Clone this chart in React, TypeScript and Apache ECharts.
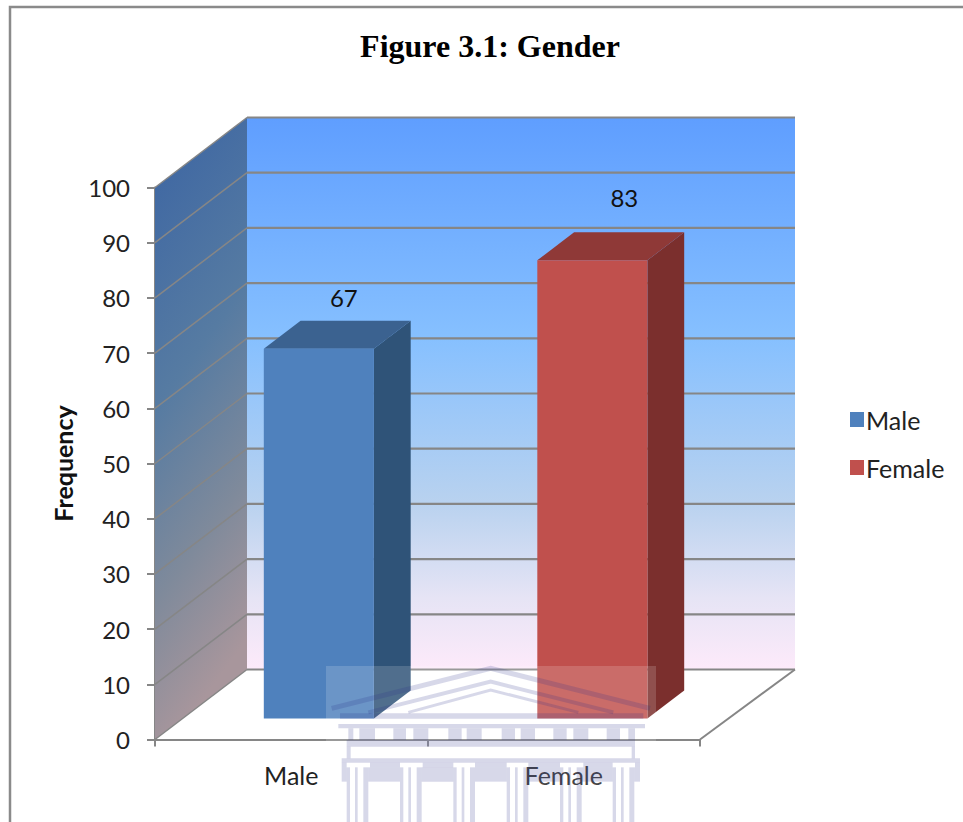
import React, { useEffect, useRef } from "react";
import * as echarts from "echarts";

const CATEGORIES = ["Male", "Female"];
const MALE_VALUES = [["Male", 67]];
const FEMALE_VALUES = [["Female", 83]];
const Y_TICKS = [0, 10, 20, 30, 40, 50, 60, 70, 80, 90, 100];
const TITLE = "Figure 3.1: Gender";
const Y_NAME = "Frequency";

const FONT = "Lato, 'Noto Sans', sans-serif";
const GRID_COLOR = "#868686";
const TEXT_COLOR = "#222222";
const DEPTH_X = 92;
const DEPTH_X_RIGHT = 95;
const DEPTH_Y = 70;
const BAR_FRONT = 0.3;
const BAR_DEPTH = 0.4;
const BAR_RATIO = 0.404;

function renderWalls(params: any, api: any) {
  const cs = params.coordSys;
  const left = cs.x;
  const right = cs.x + cs.width;
  const top = cs.y;
  const bottom = cs.y + cs.height;
  const children: any[] = [];
  children.push({
    type: "polygon",
    shape: { points: [[left + DEPTH_X, top - DEPTH_Y], [right + DEPTH_X_RIGHT, top - DEPTH_Y], [right + DEPTH_X_RIGHT, bottom - DEPTH_Y], [left + DEPTH_X, bottom - DEPTH_Y]] },
    style: {
      fill: new echarts.graphic.LinearGradient(0, 0, 0, 1, [
        { offset: 0, color: "#5f9eff" },
        { offset: 0.4, color: "#86c0ff" },
        { offset: 0.7, color: "#b9d2ef" },
        { offset: 0.87, color: "#e6e4f5" },
        { offset: 1, color: "#fdeafa" },
      ]),
    },
  });
  children.push({
    type: "polygon",
    shape: { points: [[left, top], [left + DEPTH_X, top - DEPTH_Y], [left + DEPTH_X, bottom - DEPTH_Y], [left, bottom]] },
    style: {
      fill: new echarts.graphic.LinearGradient(0, 0, 0.2, 1, [
        { offset: 0, color: "#3b64a3" },
        { offset: 0.45, color: "#567ba2" },
        { offset: 0.75, color: "#7f8a9b" },
        { offset: 1, color: "#a8969c" },
      ]),
    },
  });
  Y_TICKS.forEach((t) => {
    const y = api.coord([0, t])[1];
    children.push({
      type: "line",
      shape: { x1: left, y1: y, x2: left + DEPTH_X, y2: y - DEPTH_Y },
      style: { stroke: GRID_COLOR, lineWidth: 1.5 },
    });
    children.push({
      type: "line",
      shape: { x1: left + DEPTH_X, y1: y - DEPTH_Y, x2: right + DEPTH_X_RIGHT, y2: y - DEPTH_Y },
      style: { stroke: GRID_COLOR, lineWidth: 2.2 },
    });
  });
  children.push({
    type: "line",
    shape: { x1: right, y1: bottom, x2: right + DEPTH_X_RIGHT, y2: bottom - DEPTH_Y },
    style: { stroke: GRID_COLOR, lineWidth: 2 },
  });
  return { type: "group", children };
}

function makeBarRenderer(front: string, side: string, topFace: string, shiftX: number, labelDx: number, labelDy: number) {
  return (_params: any, api: any) => {
    const value = api.value(1);
    const base = api.coord([api.value(0), 0]);
    const head = api.coord([api.value(0), value]);
    const width = api.size([1, 0])[0] * BAR_RATIO;
    const fx = DEPTH_X * BAR_FRONT + shiftX;
    const fy = DEPTH_Y * BAR_FRONT;
    const dx = DEPTH_X * BAR_DEPTH;
    const dy = DEPTH_Y * BAR_DEPTH;
    const x0 = base[0] + fx - width / 2;
    const x1 = x0 + width;
    const yb = base[1] - fy;
    const yt = head[1] - fy;
    return {
      type: "group",
      children: [
        { type: "polygon", shape: { points: [[x1, yt], [x1 + dx, yt - dy], [x1 + dx, yb - dy], [x1, yb]] }, style: { fill: side } },
        { type: "polygon", shape: { points: [[x0, yt], [x0 + dx, yt - dy], [x1 + dx, yt - dy], [x1, yt]] }, style: { fill: topFace } },
        { type: "polygon", shape: { points: [[x0, yt], [x1, yt], [x1, yb], [x0, yb]] }, style: { fill: front } },
        {
          type: "text",
          style: {
            text: String(value),
            x: base[0] + fx + labelDx,
            y: yt + labelDy,
            align: "center",
            verticalAlign: "middle",
            fontFamily: FONT,
            fontSize: 24,
            fill: "#111111",
          },
        },
      ],
    };
  };
}

// The faded building printed across the lower part of the page.
function watermark() {
  const ink = "rgba(40,50,140,0.19)";
  const z = 100;
  const out: any[] = [];
  const X = (v: number) => 320 + v / 3;
  const Y = (v: number) => 660 + v / 3;
  // rectangles are given in the 3x coordinates of the measured crop
  const rect = (x0: number, x1: number, y0: number, y1: number, fill = ink) =>
    out.push({ type: "rect", z, silent: true, shape: { x: X(x0), y: Y(y0), width: (x1 - x0) / 3, height: (y1 - y0) / 3 }, style: { fill } });
  const roof = (pts: number[][], lineWidth: number) =>
    out.push({ type: "polyline", z, silent: true, shape: { points: pts.map(([a, b]) => [X(a), Y(b)]) }, style: { stroke: ink, fill: "none", lineWidth } });

  rect(18, 1008, 18, 486, "rgba(255,255,255,0.16)");
  roof([[35, 145], [512, 25], [990, 145]], 5);
  roof([[145, 157], [512, 65], [880, 157]], 4);
  roof([[265, 157], [512, 90], [775, 157]], 3);
  rect(60, 970, 160, 176);
  rect(55, 975, 192, 205);
  [[85, 100], [118, 165], [220, 258], [280, 325], [385, 425], [440, 485], [545, 585], [602, 645], [700, 740], [760, 805], [860, 900], [925, 945]].forEach(([a, b]) =>
    rect(a, b, 205, 240)
  );
  rect(80, 945, 240, 260);
  rect(80, 92, 260, 295);
  rect(935, 945, 260, 295);
  rect(65, 960, 295, 308);
  [[65, 80], [150, 240], [308, 400], [465, 560], [625, 720], [790, 878], [945, 960]].forEach(([a, b]) => rect(a, b, 308, 322));
  const cols = [80, 240, 400, 560, 720, 878];
  rect(65, 80, 322, 365);
  cols.forEach((c, i) => {
    const next = i < cols.length - 1 ? cols[i + 1] : c + 65;
    rect(c, c + 10, 322, 486);
    rect(c + 25, c + 33, 322, 486);
    rect(c + 50, c + 65, 322, 486);
    if (next > c + 65) rect(c + 65, next, 322, 365);
  });
  rect(943, 960, 322, 365);
  return out;
}

export default function App() {
  const ref = useRef<HTMLDivElement>(null);
  useEffect(() => {
    document.body.style.margin = "0";
    document.documentElement.style.overflow = "hidden";
    const chart = echarts.init(ref.current!, undefined, { renderer: "svg" });
    chart.setOption({
      animation: false,
      backgroundColor: "#ffffff",
      title: {
        text: TITLE,
        left: 485,
        top: 25,
        textAlign: "center",
        textStyle: { fontFamily: "'Liberation Serif', serif", fontWeight: "bold", fontSize: 32, color: "#000000" },
      },
      legend: {
        orient: "vertical",
        left: 845,
        top: 402,
        data: ["Male", "Female"],
        icon: "rect",
        itemWidth: 14,
        itemHeight: 15,
        itemGap: 23,
        selectedMode: false,
        textStyle: { fontFamily: FONT, fontSize: 25, color: TEXT_COLOR, padding: [0, 0, 3, -3] },
      },
      grid: { left: 155, top: 187.5, width: 545, height: 552 },
      xAxis: {
        type: "category",
        data: CATEGORIES,
        axisLine: { lineStyle: { color: GRID_COLOR, width: 2 } },
        axisTick: { show: true, length: 7, lineStyle: { color: GRID_COLOR, width: 2 } },
        axisLabel: { fontFamily: FONT, fontSize: 25, color: TEXT_COLOR, margin: 23 },
      },
      yAxis: {
        type: "value",
        min: 0,
        max: 100,
        interval: 10,
        name: Y_NAME,
        nameLocation: "middle",
        nameRotate: 90,
        nameGap: 80,
        nameTextStyle: { fontFamily: FONT, fontWeight: "bold", fontSize: 25, color: "#111111" },
        splitLine: { show: false },
        axisLine: { show: true, lineStyle: { color: GRID_COLOR, width: 2 } },
        axisTick: { show: true, length: 8, lineStyle: { color: GRID_COLOR, width: 2 } },
        axisLabel: { fontFamily: FONT, fontSize: 24, color: TEXT_COLOR, margin: 25 },
      },
      series: [
        {
          type: "custom",
          name: "walls",
          z: 1,
          silent: true,
          data: [[0, 0]],
          encode: { x: 0, y: 1 },
          renderItem: renderWalls,
        },
        {
          type: "custom",
          name: "Male",
          z: 3,
          silent: true,
          itemStyle: { color: "#4f81bd" },
          data: MALE_VALUES,
          encode: { x: 0, y: 1 },
          renderItem: makeBarRenderer("#4f81bd", "#2f5378", "#3b6290", 0, 25, -51),
        },
        {
          type: "custom",
          name: "Female",
          z: 3,
          silent: true,
          itemStyle: { color: "#c0504d" },
          data: FEMALE_VALUES,
          encode: { x: 0, y: 1 },
          renderItem: makeBarRenderer("#c0504d", "#7b2f2d", "#8f3937", 1, 32, -63),
        },
      ],
      graphic: [
        {
          type: "polyline",
          z: 50,
          silent: true,
          shape: { points: [[10, 822], [10, 7], [963, 7]] },
          style: { stroke: "#8a8a8a", lineWidth: 2.5, fill: "none" },
        },
        ...watermark(),
      ],
    });
    return () => chart.dispose();
  }, []);
  return <div ref={ref} style={{ position: "absolute", left: 0, top: 0, width: 963, height: 822 }} />;
}
